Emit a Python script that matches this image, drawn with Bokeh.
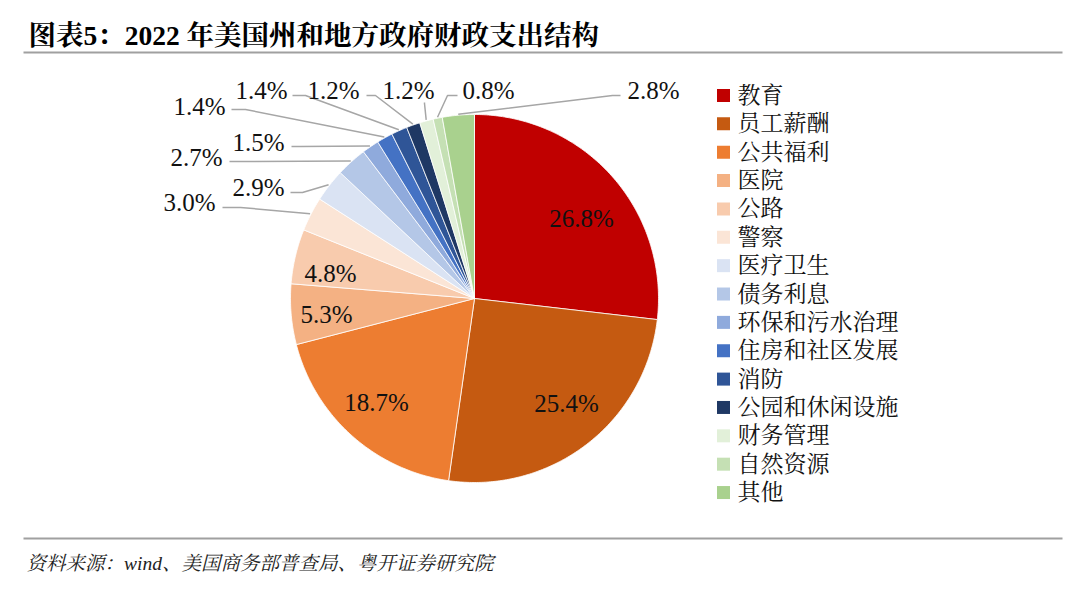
import numpy as np
from bokeh.plotting import figure
from bokeh.models import Range1d
from bokeh.core.properties import value
from bokeh.embed import file_html
from bokeh.resources import INLINE

# ---------------- data ----------------
categories = ["教育", "员工薪酬", "公共福利", "医院", "公路", "警察", "医疗卫生", "债务利息",
              "环保和污水治理", "住房和社区发展", "消防", "公园和休闲设施", "财务管理", "自然资源", "其他"]
values = [26.8, 25.4, 18.7, 5.3, 4.8, 3.0, 2.9, 2.7, 1.5, 1.4, 1.4, 1.2, 1.2, 0.8, 2.8]
colors = ["#C00000", "#C55A11", "#ED7D31", "#F4B183", "#F8CBAD", "#FBE5D6", "#DAE3F3", "#B4C7E7",
          "#8FAADC", "#4472C4", "#2F5597", "#1F3864", "#E2F0D9", "#C5E0B4", "#A9D18E"]
title = "图表5：2022 年美国州和地方政府财政支出结构"
source_note = "资料来源：wind、美国商务部普查局、粤开证券研究院"

# ---------------- layout (screen pixel coords) ----------------
W, H = 1064, 573
CX, CY, R = 474, 298, 184
inside_pos = [(581, 218), (566, 403), (376, 402), (326, 314), (330, 273)]
# outside labels: (text left x, text centre y, line start x, line start y, elbow x, elbow y)
outside_layout = [
    (163, 202, 222, 207, 240, 207),
    (232, 187, 290, 192, 302, 192),
    (170, 157, 229, 161, 240, 161),
    (232, 142, 291, 146, 300, 146),
    (173, 106, 231, 109, 245, 109),
    (235, 90, 292, 95, 305, 95),
    (307, 90, 366, 95, 375, 95),
    (382, 90, 424, 102, 424, 103),
    (462, 90, 457, 95, 447, 95),
    (627, 90, 620, 95, 612, 95),
]
LEG_X, LEG_Y0, LEG_STEP = 723, 95, 28.36

SERIF = "'Liberation Serif', 'Times New Roman', 'Noto Serif CJK SC', 'Noto Sans CJK SC', serif"

p = figure(width=W, height=H, output_backend="svg", toolbar_location=None,
           x_range=Range1d(0, W), y_range=Range1d(H, 0),
           min_border=0, outline_line_color=None)
p.axis.visible = False
p.grid.visible = False
p.background_fill_color = "white"
p.border_fill_color = "white"

# ---------------- pie ----------------
total = sum(values)
vals = np.array(values)
cum = np.cumsum(vals)
starts = 2 * np.pi * (cum - vals) / total
ends = 2 * np.pi * cum / total
xs, ys = [], []
for s, e in zip(starts, ends):
    th = np.linspace(s, e, max(8, int((e - s) * 80)))
    xs.append([CX] + list(CX + R * np.sin(th)))
    ys.append([CY] + list(CY - R * np.cos(th)))
p.patches(xs=xs, ys=ys, fill_color=colors, line_color="white", line_width=0.8)

labels = [f"{v:.1f}%" for v in values]

# inside labels
n_in = len(inside_pos)
p.text(x=[q[0] for q in inside_pos], y=[q[1] for q in inside_pos], text=labels[:n_in],
       text_font=value(SERIF), text_font_size="25px", text_align="center",
       text_baseline="middle", text_color="#111111")

# outside labels + leaders
mids = (starts + ends) / 2
lx, ly = [], []
for k, lay in enumerate(outside_layout):
    i = n_in + k
    ax = CX + (R + 1) * np.sin(mids[i])
    ay = CY - (R + 1) * np.cos(mids[i])
    lx.append([lay[2], lay[4], ax])
    ly.append([lay[3], lay[5], ay])
p.multi_line(xs=lx, ys=ly, line_color="#A6A6A6", line_width=1.5)
p.text(x=[q[0] for q in outside_layout], y=[q[1] for q in outside_layout], text=labels[n_in:],
       text_font=value(SERIF), text_font_size="25px", text_align="left",
       text_baseline="middle", text_color="#111111")

# ---------------- legend ----------------
leg_y = [LEG_Y0 + i * LEG_STEP for i in range(len(categories))]
p.scatter(x=[LEG_X] * len(categories), y=leg_y, marker="square", size=13,
          fill_color=colors, line_color=None)
p.text(x=[LEG_X + 14] * len(categories), y=leg_y, text=categories,
       text_font=value(SERIF), text_font_size="23px", text_align="left",
       text_baseline="middle", text_color="#111111")

# ---------------- title / footer ----------------
p.text(x=[28], y=[35], text=[title], text_font=value(SERIF), text_font_size="27.5px",
       text_font_style="bold", text_align="left", text_baseline="middle", text_color="#000000")
p.segment(x0=[23, 23], y0=[52, 538], x1=[1062, 1062], y1=[52, 538],
          line_color="#A0A0A0", line_width=2)
p.text(x=[26], y=[563], text=[source_note], text_font=value(SERIF), text_font_size="19.5px",
       text_font_style="italic", text_align="left", text_baseline="middle", text_color="#222222")

open("out.html", "w").write(file_html(p, INLINE))
